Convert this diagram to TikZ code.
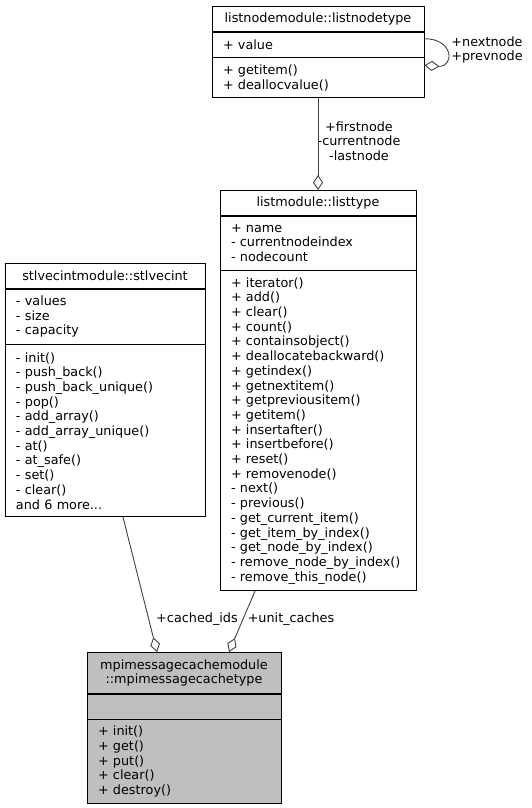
\documentclass[tikz,border=0pt]{standalone}
\usepackage{fontspec}
\setmainfont{DejaVu Sans}
\usepackage{tikz}
\usetikzlibrary{positioning,arrows.meta}

\tikzset{
	part/.style={draw=black,line width=0.7pt,inner xsep=11pt,inner ysep=0pt,text width=#1,align=left,font=\fontsize{12.8}{14.7}\selectfont},
	edge/.style={draw=black!75,line width=0.9pt,-{Diamond[open,length=15pt,width=10pt]}},
	lbl/.style={align=center,inner sep=0pt,font=\fontsize{12.8}{14.5}\selectfont}
}

\begin{document}
\begin{tikzpicture}[x=1pt,y=-1pt]
		\useasboundingbox (0,0) rectangle (531,808);
		%	\draw[very thin,color=gray] (0,0) grid[step=50] (531,808);
		% listnodemodule::listnodetype
		\node[part=190pt,align=center,anchor=north,minimum height=25pt] (ln-title) at (318,6) {listnodemodule::listnodetype};
		\node[part=190pt,below=0pt of ln-title,minimum height=25pt] (ln-attr) {+ value};
		\node[part=190pt,below=0pt of ln-attr,minimum height=40pt] (ln-meth) {+ getitem()\\+ deallocvalue()};
		% listmodule::listtype
		\node[part=174pt,align=center,anchor=north,minimum height=25pt] (lt-title) at (318,190) {listmodule::listtype};
		\node[part=174pt,below=0pt of lt-title,minimum height=54pt] (lt-attr) {+ name\\- currentnodeindex\\- nodecount};
		\node[part=174pt,below=0pt of lt-attr,minimum height=320pt] (lt-meth) {+ iterator()\\+ add()\\+ clear()\\+ count()\\+ containsobject()\\+ deallocatebackward()\\+ getindex()\\+ getnextitem()\\+ getpreviousitem()\\+ getitem()\\+ insertafter()\\+ insertbefore()\\+ reset()\\+ removenode()\\- next()\\- previous()\\- get\_current\_item()\\- get\_item\_by\_index()\\- get\_node\_by\_index()\\- remove\_node\_by\_index()\\- remove\_this\_node()};
		% stlvecintmodule::stlvecint
		\node[part=178pt,align=center,anchor=north,minimum height=25pt] (sv-title) at (105,263) {stlvecintmodule::stlvecint};
		\node[part=178pt,below=0pt of sv-title,minimum height=55pt] (sv-attr) {- values\\- size\\- capacity};
		\node[part=178pt,below=0pt of sv-attr,minimum height=172pt] (sv-meth) {- init()\\- push\_back()\\- push\_back\_unique()\\- pop()\\- add\_array()\\- add\_array\_unique()\\- at()\\- at\_safe()\\- set()\\- clear()\\and 6 more...};
		% mpimessagecachemodule::mpimessagecachetype
		\node[part=172pt,align=center,anchor=north,minimum height=41pt,fill=black!25] (mc-title) at (184,652) {mpimessagecachemodule\\::mpimessagecachetype};
		\node[part=172pt,below=0pt of mc-title,minimum height=25pt,fill=black!25] (mc-attr) {};
		\node[part=172pt,below=0pt of mc-attr,minimum height=84pt,fill=black!25] (mc-meth) {+ init()\\+ get()\\+ put()\\+ clear()\\+ destroy()};
		% connectors
		\draw[edge] (ln-meth.south) -- (lt-title.north);
		\draw[edge] ([yshift=-7pt]ln-attr.north east) .. controls +(30,0) and +(30,2) .. ([yshift=-8pt]ln-meth.north east);
		\draw[edge] ([xshift=18pt]sv-meth.south) -- ([xshift=-27pt]mc-title.north);
		\draw[edge] ([xshift=-63pt]lt-meth.south) -- ([xshift=45pt]mc-title.north);
		\node[lbl] (l-first) at (359,141) {+firstnode\\-currentnode\\-lastnode};
		\node[lbl] (l-next) at (487,50) {+nextnode\\+prevnode};
		\node[lbl] (l-cached) at (197,619) {+cached\_ids};
		\node[lbl] (l-unit) at (291,619) {+unit\_caches};
\end{tikzpicture}
\end{document}
